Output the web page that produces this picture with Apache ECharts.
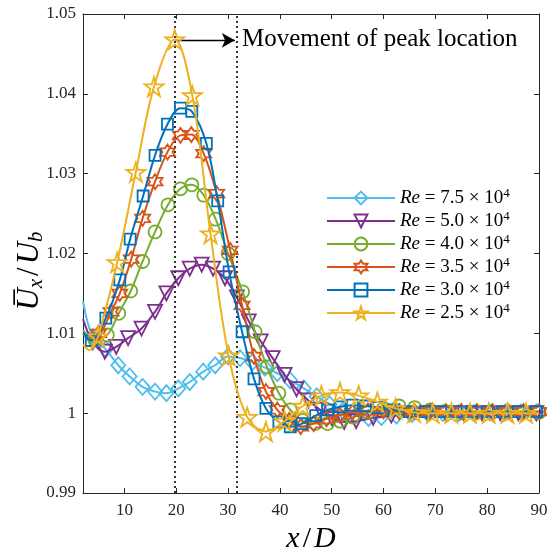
<!DOCTYPE html>
<html>
<head>
<meta charset="utf-8">
<script src="https://cdn.jsdelivr.net/npm/echarts@6/dist/echarts.min.js"></script>
<style>html,body{margin:0;padding:0;background:#fff}#c{width:547px;height:548px}</style>
</head>
<body>
<div id="c"></div>
<script>
// ---- data ----
const seriesNames = ['Re = 7.5 × 10^4','Re = 5.0 × 10^4','Re = 4.0 × 10^4','Re = 3.5 × 10^4','Re = 3.0 × 10^4','Re = 2.5 × 10^4'];
const xTicks = [10,20,30,40,50,60,70,80,90];
const yTicks = [0.99,1.00,1.01,1.02,1.03,1.04,1.05];

const re75_x = [2,3.9,6.4,8.8,11.0,13.5,15.9,18.1,20.4,22.6,25.2,27.5,30.0,32.3,34.7,37.1,39.5,42.0,44.6,47.1,49.6,52.1,54.6,57.1,59.6,62.5,65.5,68.5,71.5,74.5,77.5,80.5,83.5,86.5,89.5];
const re75_y = [1.0140,1.0095,1.0080,1.0060,1.0046,1.0033,1.0027,1.0025,1.0031,1.0039,1.0052,1.0060,1.0071,1.0069,1.0064,1.0057,1.0050,1.0041,1.0031,1.0021,1.0011,1.0003,0.9997,0.9994,0.9995,0.9997,0.9999,1.0000,1.0000,1.0000,1.0000,1.0001,1.0001,1.0001,1.0001];
const re75_lineOnly = [2];

const re50_x = [2,3.9,6.2,8.4,10.7,13.3,15.9,18.1,20.4,22.6,24.9,27.1,29.4,31.7,34.0,36.3,38.6,40.9,43.2,45.5,47.8,50.1,52.4,54.7,58.0,61.5,65.0,68.5,72.0,75.5,79.0,82.5,86.0,89.5];
const re50_y = [1.0118,1.0089,1.0077,1.0083,1.0094,1.0106,1.0127,1.0150,1.0169,1.0181,1.0186,1.0181,1.0169,1.0145,1.0115,1.0090,1.0069,1.0048,1.0030,1.0016,1.0004,0.9993,0.9989,0.9990,0.9994,0.9997,0.9999,1.0000,1.0000,1.0000,1.0000,1.0000,1.0000,1.0000];
const re50_lineOnly = [2];

const re40_x = [2,4.3,6.7,8.9,11.2,13.5,15.9,18.4,20.8,23.0,25.3,27.6,30.0,32.8,35.2,37.5,39.8,42.0,44.4,46.8,49.2,51.6,54.0,57.0,60.0,63.0,66.0,69.0,72.0,75.0,78.0,81.0,84.0,87.0,90.0];
const re40_y = [1.0104,1.0092,1.0098,1.0125,1.0153,1.0190,1.0227,1.0261,1.0281,1.0286,1.0273,1.0243,1.0200,1.0152,1.0102,1.0058,1.0025,1.0004,0.9991,0.9987,0.9987,0.9990,0.9995,1.0001,1.0006,1.0009,1.0007,1.0004,1.0002,1.0001,1.0001,1.0001,1.0001,1.0001,1.0001];
const re40_lineOnly = [2];

const re35_x = [2,5.0,7.4,9.1,11.3,13.5,15.9,18.3,20.8,22.9,25.3,27.8,30.4,32.7,35.0,37.3,39.5,41.8,44.0,46.5,49.0,51.5,54.0,57.0,60.0,63.0,66.0,69.0,72.0,75.0,78.0,81.0,84.0,87.0,90.0];
const re35_y = [1.0098,1.0100,1.0127,1.0150,1.0193,1.0244,1.0290,1.0327,1.0348,1.0349,1.0325,1.0275,1.0204,1.0135,1.0071,1.0027,1.0004,0.9991,0.9983,0.9987,0.9993,0.9998,1.0001,1.0003,1.0003,1.0002,1.0002,1.0002,1.0002,1.0002,1.0002,1.0002,1.0002,1.0002,1.0002];
const re35_lineOnly = [2];

const re30_x = [2,3.6,6.4,9.1,11.1,13.6,15.9,18.3,20.8,23.0,25.8,28.0,30.2,32.7,35.0,37.3,39.8,42.0,44.3,46.9,49.2,51.6,54.0,56.5,59.0,62.0,65.0,68.0,71.0,74.0,77.0,80.0,83.0,86.0,89.5];
const re30_y = [1.0100,1.0091,1.0119,1.0167,1.0218,1.0272,1.0323,1.0362,1.0382,1.0378,1.0338,1.0266,1.0177,1.0102,1.0043,1.0006,0.9989,0.9983,0.9987,0.9997,1.0004,1.0008,1.0010,1.0009,1.0007,1.0004,1.0002,1.0002,1.0002,1.0002,1.0002,1.0002,1.0002,1.0002,1.0002];
const re30_lineOnly = [2];

const re25_x = [2,3.3,4.9,8.6,12.2,15.7,19.7,23.1,26.6,30.1,33.7,37.3,40.9,44.4,48.0,51.6,55.2,58.8,62.3,65.9,69.5,73.1,76.7,80.3,83.9,87.5,90];
const re25_y = [1.0086,1.0079,1.0096,1.0189,1.0302,1.0409,1.0468,1.0398,1.0225,1.0072,0.9995,0.9977,0.9990,1.0009,1.0022,1.0026,1.0022,1.0014,1.0006,1.0001,1.0000,1.0000,1.0000,1.0000,1.0000,1.0000,1.0000];
const re25_lineOnly = [2,3.3,90];

const peakLines = [19.8, 31.6];
const arrowFrom = [19.8, 1.0467];
const arrowTo = [31.3, 1.0467];
const annotation = 'Movement of peak location';

// ---- styling ----
const colors = ['#4DBEEE','#7E2F8E','#77AC30','#D95319','#0072BD','#EDB120'];
const hexagram = 'path://M50 0 L64.43 25 L93.3 25 L78.87 50 L93.3 75 L64.43 75 L50 100 L35.57 75 L6.7 75 L21.13 50 L6.7 25 L35.57 25 Z';
const pentagram = 'path://M50 0 L61.23 34.55 L97.55 34.55 L68.16 55.9 L79.39 90.45 L50 69.1 L20.61 90.45 L31.84 55.9 L2.45 34.55 L38.77 34.55 Z';
const symbols = ['diamond','triangle','circle',hexagram,'rect',pentagram];
const symSizes = [[14,16],14,13,15,11,19];
const symRot = [0,180,0,0,0,0];

const allX = [re75_x,re50_x,re40_x,re35_x,re30_x,re25_x];
const allY = [re75_y,re50_y,re40_y,re35_y,re30_y,re25_y];
const allLO = [re75_lineOnly,re50_lineOnly,re40_lineOnly,re35_lineOnly,re30_lineOnly,re25_lineOnly];

const FONT = '"Liberation Serif","Times New Roman",serif';
const AX = '#262626';

const series = seriesNames.map((name,k)=>{
  const data = allX[k].map((x,i)=> allLO[k].includes(x) ? {value:[x,allY[k][i]], symbol:'none'} : [x,allY[k][i]]);
  return {
    name, type:'line', data, smooth:0.35, z: 2+k,
    symbol: symbols[k], symbolSize: symSizes[k], symbolRotate: symRot[k], showAllSymbol:true,
    lineStyle:{color:colors[k], width:2},
    itemStyle:{color:'rgba(255,255,255,0)', borderColor:colors[k], borderWidth:1.8},
    emphasis:{disabled:true}, animation:false
  };
});
series[0].markLine = {
  silent:true, symbol:'none', animation:false,
  label:{show:false},
  lineStyle:{type:[2,3], color:'#333', width:2},
  data: peakLines.map(v=>({xAxis:v}))
};
series[5].markLine = {
  silent:true, animation:false, label:{show:false},
  symbol:['none','arrow'], symbolSize:[11,13],
  lineStyle:{type:'solid', color:'#000', width:1.3},
  data:[[{coord:arrowFrom},{coord:arrowTo}]]
};

const fmtName = n => {
  const m = n.match(/Re = ([\d.]+) × 10\^(\d)/);
  return '{i|Re} = ' + m[1] + ' × 10{sup|' + m[2] + '}';
};

const option = {
  backgroundColor:'#fff',
  animation:false,
  grid:{left:83, right:8, top:14, bottom:55, containLabel:false, outerBoundsMode:'none'},
  legend:{
    orient:'vertical', left:321, top:182, itemWidth:68, itemHeight:16, itemGap:2.5,
    data: seriesNames, formatter: fmtName,
    textStyle:{fontFamily:FONT, fontSize:19, color:'#000',
      rich:{i:{fontFamily:FONT, fontStyle:'italic', fontSize:19}, sup:{fontFamily:FONT, fontSize:13, padding:[0,0,9,0]}}}
  },
  xAxis:[{
    type:'value', min:2, max:90,
    axisLine:{show:true, onZero:false, lineStyle:{color:AX, width:1}},
    axisTick:{show:true, inside:true, length:5, customValues:xTicks, lineStyle:{color:AX}},
    axisLabel:{customValues:xTicks, fontFamily:FONT, fontSize:17, color:AX, margin:9},
    splitLine:{show:false},
    name:'{i|x}{n|/}{i|D}', nameLocation:'middle', nameGap:22,
    nameTextStyle:{fontFamily:FONT, fontSize:30, color:'#000',
      rich:{i:{fontFamily:FONT, fontStyle:'italic', fontSize:30}, n:{fontFamily:FONT, fontSize:30, padding:[0,3,0,3]}}}
  },{
    type:'value', min:2, max:90, position:'top',
    axisLine:{show:true, onZero:false, lineStyle:{color:AX, width:1}},
    axisTick:{show:true, inside:true, length:5, customValues:xTicks, lineStyle:{color:AX}},
    axisLabel:{show:false}, splitLine:{show:false}
  }],
  yAxis:[{
    type:'value', min:0.99, max:1.05, interval:0.01,
    axisLine:{show:true, onZero:false, lineStyle:{color:AX, width:1}},
    axisTick:{show:true, inside:true, length:5, lineStyle:{color:AX}},
    axisLabel:{fontFamily:FONT, fontSize:17, color:AX, margin:7,
      formatter: v => String(Math.round(v*100)/100)},
    splitLine:{show:false}
  },{
    type:'value', min:0.99, max:1.05, interval:0.01, position:'right',
    axisLine:{show:true, onZero:false, lineStyle:{color:AX, width:1}},
    axisTick:{show:true, inside:true, length:5, lineStyle:{color:AX}},
    axisLabel:{show:false}, splitLine:{show:false}
  }],
  graphic:[{
    type:'text', left:242, top:27,
    style:{text:annotation, font:'25px "Liberation Serif","Times New Roman",serif', fill:'#000'}
  },{
    type:'text', x:30, y:271, rotation:Math.PI/2,
    style:{text:'{o|U\u0305}{s|x}{n|/}{u|U}{s|b}', align:'center', verticalAlign:'middle', fill:'#000',
      font:'31px "Liberation Serif","Times New Roman",serif',
      rich:{o:{fontFamily:FONT, fontStyle:'italic', fontSize:31},
            u:{fontFamily:FONT, fontStyle:'italic', fontSize:31},
            n:{fontFamily:FONT, fontSize:31, padding:[0,3,0,3]},
            s:{fontFamily:FONT, fontStyle:'italic', fontSize:21, padding:[13,0,0,0]}}}
  }],
  series
};
const chart = echarts.init(document.getElementById('c'), null, {renderer:'canvas'});
chart.setOption(option);
</script>
</body>
</html>
